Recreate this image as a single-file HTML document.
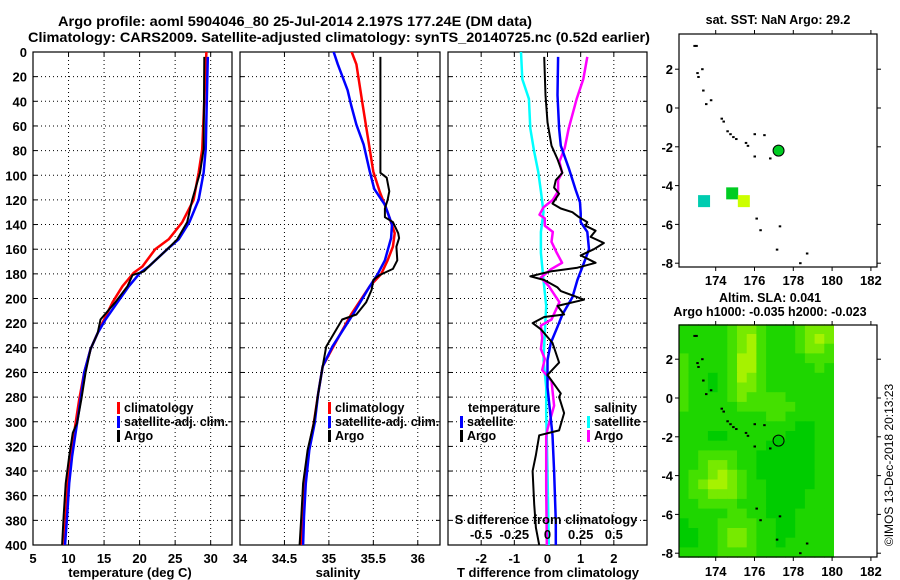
<!DOCTYPE html>
<html><head><meta charset="utf-8"><style>
html,body{margin:0;padding:0;background:#fff;}
svg{display:block;font-family:"Liberation Sans",Arial,sans-serif;font-weight:bold;}
</style></head><body>
<svg id="fig" width="900" height="580" viewBox="0 0 900 580" xmlns="http://www.w3.org/2000/svg">
<rect x="0" y="0" width="900" height="580" fill="#fff"/>
<text x="295" y="26" font-size="14" text-anchor="middle" textLength="474" lengthAdjust="spacingAndGlyphs">Argo profile: aoml 5904046_80 25-Jul-2014 2.197S 177.24E (DM data)</text>
<text x="339" y="42" font-size="14" text-anchor="middle" textLength="622" lengthAdjust="spacingAndGlyphs">Climatology: CARS2009. Satellite-adjusted climatology: synTS_20140725.nc (0.52d earlier)</text>
<g id="layer"></g>
<text transform="translate(893,465) rotate(-90)" font-size="12" font-weight="normal" text-anchor="middle">©IMOS 13-Dec-2018 20:13:23</text>
</svg>
<script>
// ---- temperature panel data ----
const tArgoDepth=[4,79,98,120,138,152,160,174,178,181,190,203,217,228,241,260,282,301,309,328,350,377,400];
const tArgoVal=[29.1,29.0,28.5,27.4,26.7,25.3,23.9,21.3,20.6,19.0,18.3,16.6,14.5,14.1,13.1,12.4,11.8,11.2,10.6,10.1,9.6,9.3,9.1];
const tClimDepth=[-5,0,79,98,120,138,152,160,174,179,190,203,217,228,241,260,282,301,328,350,377,400];
const tClimVal=[29.4,29.4,28.8,28.3,27.6,26.0,24.1,22.2,20.4,19.2,17.6,16.2,15.0,14.1,13.1,12.2,11.5,11.0,10.3,9.9,9.6,9.4];
const tSatDepth=[4,79,98,120,138,152,160,174,179,190,203,217,228,241,260,282,301,328,350,377,400];
const tSatVal=[29.6,29.3,29.0,28.3,27.0,25.5,23.9,21.3,20.1,18.5,16.9,15.2,14.1,13.1,12.2,11.7,11.2,10.5,10.1,9.8,9.5];
// ---- salinity panel data ----
const sArgoDepth=[4,98,102,113,120,127,134,138,147,151,158,169,176,181,185,193,203,213,217,239,255,277,301,323,350,377,400];
const sArgoVal=[35.58,35.58,35.65,35.68,35.66,35.63,35.63,35.72,35.78,35.79,35.76,35.77,35.72,35.57,35.5,35.48,35.42,35.31,35.15,34.97,34.93,34.88,34.83,34.76,34.71,34.69,34.67];
const sClimDepth=[-5,10,43,70,97,113,130,147,158,169,180,190,213,239,255,277,301,323,350,377,400];
const sClimVal=[35.23,35.31,35.38,35.44,35.5,35.57,35.66,35.74,35.72,35.66,35.59,35.46,35.25,35.05,34.93,34.88,34.83,34.77,34.72,34.71,34.69];
const sSatDepth=[-5,10,31,43,59,75,97,111,124,140,151,169,180,190,213,239,255,277,301,323,350,377,400];
const sSatVal=[35.03,35.1,35.21,35.25,35.31,35.39,35.46,35.51,35.63,35.71,35.7,35.63,35.55,35.46,35.27,35.04,34.93,34.88,34.84,34.78,34.74,34.72,34.71];
// ---- difference panel data ----
const dTArgoDepth=[4,35,57,76,87,98,104,110,115,123,127,130,134,138,141,145,150,155,160,165,171,175,178,182,185,191,194,201,206,213,215,220,225,236,252,262,277,280,293,307,311,327,340,367,386,400];
const dTArgoVal=[-0.1,-0.06,0,0.12,0.3,0.45,0.25,0.2,0.35,0.15,0.4,0.75,0.95,1.2,1.15,1.45,1.3,1.7,1.4,1.0,1.45,0.9,0.1,-0.52,-0.1,0.3,0.4,1.1,0.3,0.5,-0.1,-0.45,-0.2,0.15,0.35,0,0.4,0.35,0.5,0.35,-0.25,-0.35,-0.45,-0.4,-0.35,-0.25];
const dTSatDepth=[4,35,62,76,95,112,122,131,138,146,160,171,185,199,213,223,236,250,272,285,311,340,381,400];
const dTSatVal=[0.32,0.3,0.35,0.4,0.65,0.85,0.98,1.0,1.0,1.2,1.25,1.1,0.9,0.75,0.45,0.3,0.1,0,0,0.05,0.15,0.2,0.25,0.25];
const dSSatDepth=[0,22,38,62,81,97,113,130,146,163,185,206,228,250,272,293,340,400];
const dSSatVal=[-0.2,-0.19,-0.14,-0.13,-0.1,-0.07,-0.05,-0.03,-0.05,-0.05,-0.03,-0.01,-0.02,-0.03,-0.01,-0.01,0,0.01];
const dSArgoDepth=[4,22,38,62,78,89,98,104,113,120,126,132,135,141,146,154,163,171,176,183,190,203,217,222,232,241,249,258,267,287,306,312,353,400];
const dSArgoVal=[0.3,0.27,0.22,0.16,0.13,0.09,0.11,0.08,0.08,0.04,-0.03,-0.06,-0.02,-0.02,0.04,0.03,0.07,0.11,0.03,-0.05,0.01,0.09,0.03,-0.05,-0.04,-0.05,-0.02,-0.04,0.03,0.05,0,-0.01,-0.01,-0.005];
// ---- tick labels ----
const depthTicks=[0,20,40,60,80,100,120,140,160,180,200,220,240,260,280,300,320,340,360,380,400];
const tTicks=[5,10,15,20,25,30,35];
const sTicks=[34,34.5,35,35.5,36];
const dTTicks=[-2,-1,0,1,2];
const dSTicks=[-0.5,-0.25,0,0.25,0.5];
const lonTicks=[174,176,178,180,182];
const latTicks=[2,0,-2,-4,-6,-8];
// ---- map data ----
const argoLon=177.24, argoLat=-2.197;
const sstLon=[173.4,174.85,175.45];
const sstLat=[-4.8,-4.4,-4.8];
const sstColor=['#00ccb0','#00cc22','#ccff00'];
const slaRows=[
"1111123321112333","1111123421112343","1111123421112332","2111124421111222",
"2111124421111121","2110124321111111","2110123321111111","2111123222211111",
"2111112222221111","1111111112211111","1111111111110011","1110011111100011",
"1111111110000011","1122221100000011","1123321100000011","1223432100000011",
"1234432110000011","1223332110000111","1122221110000111","1111122110001111",
"0111222211001111","0011233211001111","0011233211011111","1111222211111111"];
const slaColors=['#00cc00','#1ed600','#44e000','#77ea00','#a6f200'];
const coastLon=[172.9,173.0,173.05,173.1,173.3,173.35,173.5,173.75,174.3,174.4,174.6,174.75,174.9,175.05,175.55,175.65,176.0,176.5,176.0,176.8,176.1,176.3,177.3,177.15,178.7,178.35];
const coastLat=[3.2,3.2,1.8,1.6,2.0,0.9,0.2,0.4,-0.55,-0.7,-1.2,-1.35,-1.5,-1.6,-1.8,-1.95,-1.35,-1.4,-2.5,-2.6,-5.7,-6.3,-6.1,-7.3,-7.5,-8.0];

const NS='http://www.w3.org/2000/svg';
const layer=document.getElementById('layer');
function mk(tag,attrs,parent){const e=document.createElementNS(NS,tag);for(const k in attrs)e.setAttribute(k,attrs[k]);(parent||layer).appendChild(e);return e;}
const Y0=52,YH=493;
function yD(d){return Y0+d*YH/400;}
const panels=[
 {name:'temperature',x0:33,x1:232,min:5,max:33},
 {name:'salinity',x0:240,x1:440,min:34,max:36.25},
 {name:'difference',x0:448,x1:647,min:-3,max:3}];
function xs(p,v){return p.x0+(v-p.min)*(p.x1-p.x0)/(p.max-p.min);}
const defs=mk('defs',{});
panels.forEach((p,i)=>{const c=mk('clipPath',{id:'clip'+i},defs);mk('rect',{x:p.x0,y:Y0,width:p.x1-p.x0,height:YH},c);});

function axesFrame(p,i,xt){
  const g=mk('g',{});
  
  
  depthTicks.forEach(d=>{const y=yD(d);
    if(d>0&&d<400)mk('line',{x1:p.x0,x2:p.x1,y1:y,y2:y,stroke:'#000','stroke-width':1,'stroke-dasharray':'1 3'},g);
    mk('line',{x1:p.x0,x2:p.x0+4,y1:y,y2:y,stroke:'#000'},g);
    mk('line',{x1:p.x1-4,x2:p.x1,y1:y,y2:y,stroke:'#000'},g);});
  xt.forEach(v=>{const x=xs(p,v);if(x>p.x0+1&&x<p.x1-1){
    mk('line',{x1:x,x2:x,y1:Y0,y2:Y0+YH,stroke:'#000','stroke-dasharray':'1 3'},g);
    mk('line',{x1:x,x2:x,y1:Y0,y2:Y0+4,stroke:'#000'},g);
    mk('line',{x1:x,x2:x,y1:Y0+YH-4,y2:Y0+YH,stroke:'#000'},g);}});
  mk('rect',{x:p.x0,y:Y0,width:p.x1-p.x0,height:YH,fill:'none',stroke:'#000','stroke-width':1.2},g);
  return g;
}
function line(p,i,depth,vals,color,w,name,conv){
  let d='';depth.forEach((dd,k)=>{const v=conv?conv(vals[k]):vals[k];d+=(k?'L':'M')+xs(p,v).toFixed(1)+','+yD(dd).toFixed(1);});
  const e=mk('path',{d:d,fill:'none',stroke:color,'stroke-width':w,'stroke-linejoin':'round','clip-path':'url(#clip'+i+')'});
  
  
}
function txt(x,y,s,size,anchor,name,color){const e=mk('text',{x:x,y:y,'font-size':size,'text-anchor':anchor||'start',fill:color||'#000'});e.textContent=s;
  
  return e;}

// panel 1
axesFrame(panels[0],0,tTicks);
depthTicks.forEach(d=>{txt(27,yD(d)+5,String(d),13,'end','depth-tick-label');});
tTicks.forEach(v=>{if(v<=panels[0].max)txt(xs(panels[0],v),563,String(v),13,'middle','temperature-tick-label');});
txt(130,577,'temperature (deg C)',13,'middle','temperature-axis-title');
line(panels[0],0,tClimDepth,tClimVal,'#ff0000',2.5,'temperature-climatology-line');
line(panels[0],0,tSatDepth,tSatVal,'#0000ff',2.5,'temperature-satellite-line');
line(panels[0],0,tArgoDepth,tArgoVal,'#000000',2,'temperature-argo-line');
// panel 2
axesFrame(panels[1],1,sTicks);
sTicks.forEach(v=>{txt(xs(panels[1],v),563,String(v),13,'middle','salinity-tick-label');});
txt(338,577,'salinity',13,'middle','salinity-axis-title');
line(panels[1],1,sClimDepth,sClimVal,'#ff0000',2.5,'salinity-climatology-line');
line(panels[1],1,sSatDepth,sSatVal,'#0000ff',2.5,'salinity-satellite-line');
line(panels[1],1,sArgoDepth,sArgoVal,'#000000',2,'salinity-argo-line');
// panel 3
axesFrame(panels[2],2,dTTicks);
dTTicks.forEach(v=>{txt(xs(panels[2],v),563,String(v),13,'middle','t-difference-tick-label');});
txt(548,577,'T difference from climatology',13,'middle','t-difference-axis-title');
const s2t=v=>v*4;
line(panels[2],2,dSSatDepth,dSSatVal,'#00ffff',2.5,'s-diff-satellite-line',s2t);
line(panels[2],2,dSArgoDepth,dSArgoVal,'#ff00ff',2.5,'s-diff-argo-line',s2t);
line(panels[2],2,dTSatDepth,dTSatVal,'#0000ff',2.5,'t-diff-satellite-line');
line(panels[2],2,dTArgoDepth,dTArgoVal,'#000000',2,'t-diff-argo-line');
txt(546,524,'S difference from climatology',13,'middle','s-difference-axis-title');
dSTicks.forEach(v=>{txt(xs(panels[2],v*4),539,String(v),13,'middle','s-difference-tick-label');});

// legends
function legendEntry(x,y,color,label,name){
  const g=mk('g',{});
  
  
  mk('rect',{x:x,y:y-10,width:3,height:12,fill:color},g);
  const t=mk('text',{x:x+7,y:y,'font-size':12.5},g);t.textContent=label;
}
legendEntry(117,412,'#ff0000','climatology','legend-temp-climatology');
legendEntry(117,426,'#0000ff','satellite-adj. clim.','legend-temp-satellite');
legendEntry(117,440,'#000000','Argo','legend-temp-argo');
legendEntry(328,412,'#ff0000','climatology','legend-sal-climatology');
legendEntry(328,426,'#0000ff','satellite-adj. clim.','legend-sal-satellite');
legendEntry(328,440,'#000000','Argo','legend-sal-argo');
txt(468,412,'temperature',12.5,'start','legend-temperature-heading');
legendEntry(460,426,'#0000ff','satellite','legend-diff-t-satellite');
legendEntry(460,440,'#000000','Argo','legend-diff-t-argo');
txt(594,412,'salinity',12.5,'start','legend-salinity-heading');
legendEntry(587,426,'#00ffff','satellite','legend-diff-s-satellite');
legendEntry(587,440,'#ff00ff','Argo','legend-diff-s-argo');

// maps
const MX0=679,MX1=877,PX=19.4;
function mlon(l){return 715.7+(l-174)*PX;}
function mapFrame(top,bottom,lat0y,name,labY){
  const g=mk('g',{});
  
  
  const mlat=l=>lat0y-l*PX;
  lonTicks.forEach(l=>{const x=mlon(l);
    mk('line',{x1:x,x2:x,y1:top-4,y2:top,stroke:'#000'},g);
    mk('line',{x1:x,x2:x,y1:bottom,y2:bottom+4,stroke:'#000'},g);
    txt(x,labY,String(l),13,'middle','map-lon-tick-label');});
  latTicks.forEach(l=>{const y=mlat(l);
    mk('line',{x1:MX0-4,x2:MX0,y1:y,y2:y,stroke:'#000'},g);
    mk('line',{x1:MX1,x2:MX1+4,y1:y,y2:y,stroke:'#000'},g);
    txt(673,y+5,String(l),13,'end','map-lat-tick-label');});
  return mlat;
}
// map 1
const m1lat=l=>108-l*PX;
txt(778,24,'sat. SST: NaN Argo: 29.2',12.5,'middle','sst-map-title');
sstLon.forEach((l,k)=>{const s=mk('rect',{x:mlon(l)-6,y:m1lat(sstLat[k])-6,width:12,height:12,fill:sstColor[k]});
  
  });
// map 2 heatmap
const m2lat=l=>398-l*PX;
slaRows.forEach((row,r)=>{for(let c=0;c<row.length;c++){
  const lon=172.1+c*0.5, lat=3.8-r*0.5;
  const cell=mk('rect',{x:mlon(lon).toFixed(1),y:m2lat(lat).toFixed(1),width:PX*0.5+0.6,height:PX*0.5+0.6,fill:slaColors[+row[c]]});
  
  }});
mk('rect',{x:834,y:325,width:43,height:232,fill:'#fff'});
[m1lat,m2lat].forEach((f,mi)=>{coastLon.forEach((l,k)=>{const d=mk('rect',{x:mlon(l)-1,y:f(coastLat[k])-1,width:2.5,height:2,fill:'#000'});
  
  });});
mapFrame(34,267,108,'sst-map-axes',285);
mk('rect',{x:MX0,y:34,width:MX1-MX0,height:233,fill:'none',stroke:'#000','stroke-width':1.2});
txt(770,302,'Altim. SLA: 0.041',12.5,'middle','sla-map-title-1');
txt(770,316,'Argo h1000: -0.035 h2000: -0.023',12.5,'middle','sla-map-title-2');
mapFrame(325,557,398,'sla-map-axes',576);
mk('rect',{x:MX0,y:325,width:MX1-MX0,height:232,fill:'none',stroke:'#000','stroke-width':1.2});
const mk1=mk('circle',{cx:mlon(argoLon),cy:m1lat(argoLat),r:5.5,fill:'#00cc22',stroke:'#000','stroke-width':1});


const mk2=mk('circle',{cx:mlon(argoLon),cy:m2lat(argoLat),r:5.5,fill:'#00cc00',stroke:'#000','stroke-width':1});


</script>
</body></html>
